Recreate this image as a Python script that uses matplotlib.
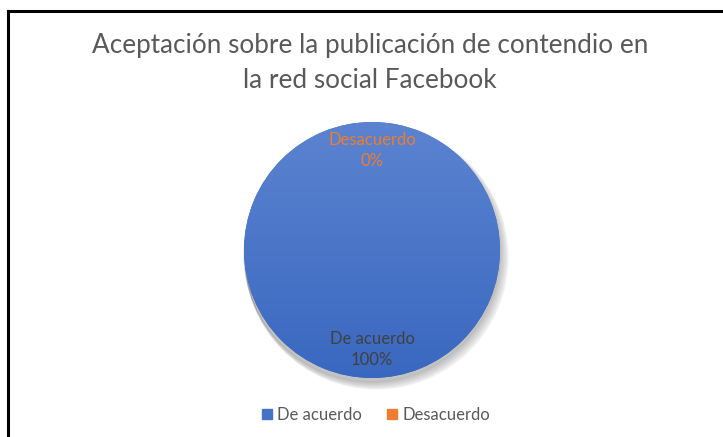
import numpy as np
import matplotlib
matplotlib.use('Agg')
from matplotlib import pyplot as plt
from matplotlib.lines import Line2D
from matplotlib.patches import Circle, Rectangle

categories = ['De acuerdo', 'Desacuerdo']
values = [100, 0]
colors = ['#4472C4', '#ED7D31']
label_colors = ['#404040', '#ED7D31']
title = 'Aceptación sobre la publicación de contendio en\nla red social Facebook'

plt.rcParams['font.family'] = ['Lato', 'DejaVu Sans']

W, H = 723, 437
fig = plt.figure(figsize=(W / 100, H / 100), dpi=100)
fig.patch.set_facecolor('white')

# chart frame (left and top edges visible)
fig.add_artist(Line2D([8 / W, 8 / W], [0, 1 - 11 / H], color='black', lw=2.2))
fig.add_artist(Line2D([8 / W, 1], [1 - 11 / H, 1 - 11 / H], color='black', lw=2.2))

fig.text(370 / W, 1 - 63 / H, title, ha='center', va='center', fontsize=18.8,
         color='#595959', linespacing=1.5)

cx, cy, r = 372, 250, 128
ax = fig.add_axes([(cx - r) / W, (H - cy - r) / H, 2 * r / W, 2 * r / H])
ax.set_aspect('equal')
ax.axis('off')

# soft shadow
for i in range(8):
    sh = Circle((0.005 * i, -0.03 - 0.004 * i), 1.0 + 0.004 * i, color='black',
                alpha=0.03, zorder=0, clip_on=False)
    ax.add_patch(sh)

wedges, _ = ax.pie(values, colors=colors, startangle=90, counterclock=False,
                   radius=1, wedgeprops=dict(linewidth=0, zorder=1))
for w in wedges:
    w.set_clip_on(False)

# vertical gradient over the big slice (lighter on top)
grad = np.linspace(0, 1, 256).reshape(-1, 1)
cmap = matplotlib.colors.LinearSegmentedColormap.from_list('g', ['#5B83D0', '#3A68C0'])
im = ax.imshow(grad, extent=[-1, 1, -1, 1], origin='upper', cmap=cmap, zorder=2,
               aspect='auto')
im.set_clip_path(wedges[0])
ax.set_xlim(-1, 1)
ax.set_ylim(-1, 1)

total = sum(values)
for w, cat, v, lc in zip(wedges, categories, values, label_colors):
    mid = np.deg2rad((w.theta1 + w.theta2) / 2)
    d = 0.78
    x, y = d * np.cos(mid), d * np.sin(mid)
    ax.text(x, y, f'{cat}\n{v / total * 100:.0f}%', ha='center', va='center',
            fontsize=12, color=lc, linespacing=1.4, zorder=5)

# legend
handles = [Rectangle((0, 0), 1, 1, color=c) for c in colors]
fig.legend(handles, categories, loc='center', bbox_to_anchor=(376 / W, 1 - 415 / H),
           ncol=2, frameon=False, fontsize=12, labelcolor='#595959',
           handlelength=0.6, handleheight=0.6, handletextpad=0.3, columnspacing=1.5)

fig.savefig('out.png', dpi=100)
